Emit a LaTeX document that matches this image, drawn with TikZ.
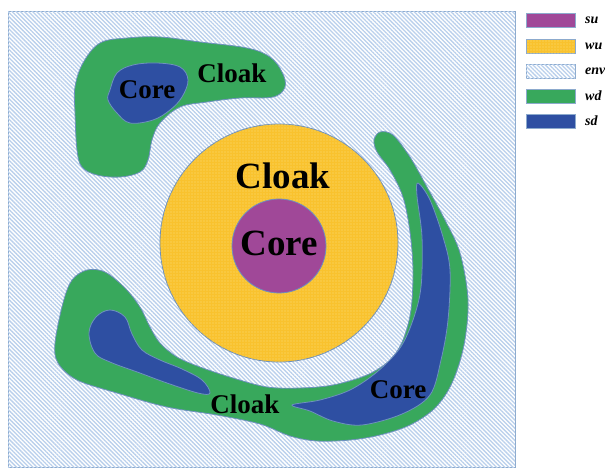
\documentclass[tikz,border=0pt]{standalone}
\usepackage{fontspec}
\setmainfont{Liberation Serif}
\usetikzlibrary{patterns.meta}
\definecolor{envline}{RGB}{186,208,236}
\definecolor{edge}{RGB}{110,145,190}
\definecolor{frame}{RGB}{140,170,205}
\definecolor{supurple}{RGB}{160,72,152}
\definecolor{wuyellow}{RGB}{249,194,46}
\definecolor{wudot}{RGB}{252,222,120}
\definecolor{wdgreen}{RGB}{56,168,92}
\definecolor{sdblue}{RGB}{46,79,162}
\tikzset{
  envfill/.style={fill=white, postaction={pattern={Lines[angle=-45,distance=2.9pt,line width=1.3pt]}, pattern color=envline}},
  wufill/.style={fill=wuyellow, postaction={pattern={Dots[distance=3pt,radius=0.55pt]}, pattern color=wudot}},
  region/.style={draw=edge, line width=0.8pt},
  biglabel/.style={font=\fontsize{37}{40}\selectfont\bfseries, inner sep=0pt},
  midlabel/.style={font=\fontsize{27}{30}\selectfont\bfseries, inner sep=0pt},
  legswatch/.style={draw=frame, line width=0.8pt, minimum width=49pt, minimum height=14pt, inner sep=0pt},
  leglabel/.style={font=\fontsize{14}{16}\selectfont\bfseries\itshape, anchor=west, inner sep=0pt},
}
\begin{document}
\begin{tikzpicture}[x=1pt,y=-1pt]
\useasboundingbox (0,0) rectangle (605,467);
% background environment
\draw[envfill, draw=frame, line width=0.8pt] (8,11) rectangle (515,467);
% top-left green cloak
\draw[region, fill=wdgreen] plot[smooth cycle, tension=0.6] coordinates {
 (127,38) (160,37) (200,42) (247,48) (270,57) (282,72) (285,87) (273,97)
 (240,98) (207,102) (180,107) (160,123) (152,140) (148,160) (140,172)
 (120,177) (97,175) (82,167) (77,150) (75,113) (75,87) (83,63) (100,43)};
% top-left blue core
\draw[region, fill=sdblue] plot[smooth cycle, tension=0.6] coordinates {
 (110,90) (117,73) (133,65) (157,63) (180,67) (188,80) (182,97) (170,110)
 (153,120) (130,123) (117,113) (108,100)};
% big green C-shaped cloak
\draw[region, fill=wdgreen] plot[smooth cycle, tension=0.55] coordinates {
 (380,132) (393,135) (410,157) (427,187) (445,220) (460,253) (468,300)
 (464,345) (452,383) (435,408) (410,425) (380,435) (350,440) (317,441)
 (290,436) (260,424) (217,415) (167,407) (117,393) (77,380) (58,363)
 (55,343) (63,303) (72,280) (87,270) (105,272) (125,288) (140,307)
 (150,327) (160,343) (177,357) (200,367) (233,378) (267,387) (300,388)
 (333,385) (367,375) (390,360) (403,340) (411,310) (413,270) (410,232)
 (403,197) (390,170) (377,152) (374,140)};
% bottom-left blue core
\draw[region, fill=sdblue] plot[smooth cycle, tension=0.6] coordinates {
 (110,310) (96,317) (89,333) (95,353) (110,362) (140,373) (167,383)
 (198,393) (210,393) (202,380) (182,369) (160,360) (142,350) (132,334)
 (125,317)};
% right blue core
\draw[region, fill=sdblue] plot[smooth cycle, tension=0.55] coordinates {
 (418,183) (430,200) (443,237) (450,270) (448,320) (441,360) (430,395)
 (402,414) (362,425) (333,421) (310,411) (292,405) (320,400) (350,390)
 (377,372) (400,348) (413,320) (421,287) (422,237) (417,196)};
% central yellow cloak and purple core
\draw[region, wufill] (279,243) circle[radius=119];
\draw[region, fill=supurple] (279,246) circle[radius=47];
% labels
\node[biglabel] (bigcloak) at (283,176) {Cloak};
\node[biglabel] (bigcore) at (279,243) {Core};
\node[midlabel] (tlcore) at (147,90) {Core};
\node[midlabel] (tlcloak) at (232,73) {Cloak};
\node[midlabel] (bcloak) at (245,404) {Cloak};
\node[midlabel] (rcore) at (398,390) {Core};
% legend
\node[legswatch, fill=supurple] (lsu) at (550.5,20) {};
\node[legswatch, wufill] (lwu) at (550.5,46) {};
\node[legswatch, envfill] (lenv) at (550.5,71) {};
\node[legswatch, fill=wdgreen] (lwd) at (550.5,96) {};
\node[legswatch, fill=sdblue] (lsd) at (550.5,121) {};
\node[leglabel] (tsu) at (585,20) {su};
\node[leglabel] (twu) at (585,46) {wu};
\node[leglabel] (tenv) at (585,71) {env};
\node[leglabel] (twd) at (585,96) {wd};
\node[leglabel] (tsd) at (585,121) {sd};
\end{tikzpicture}
\end{document}
